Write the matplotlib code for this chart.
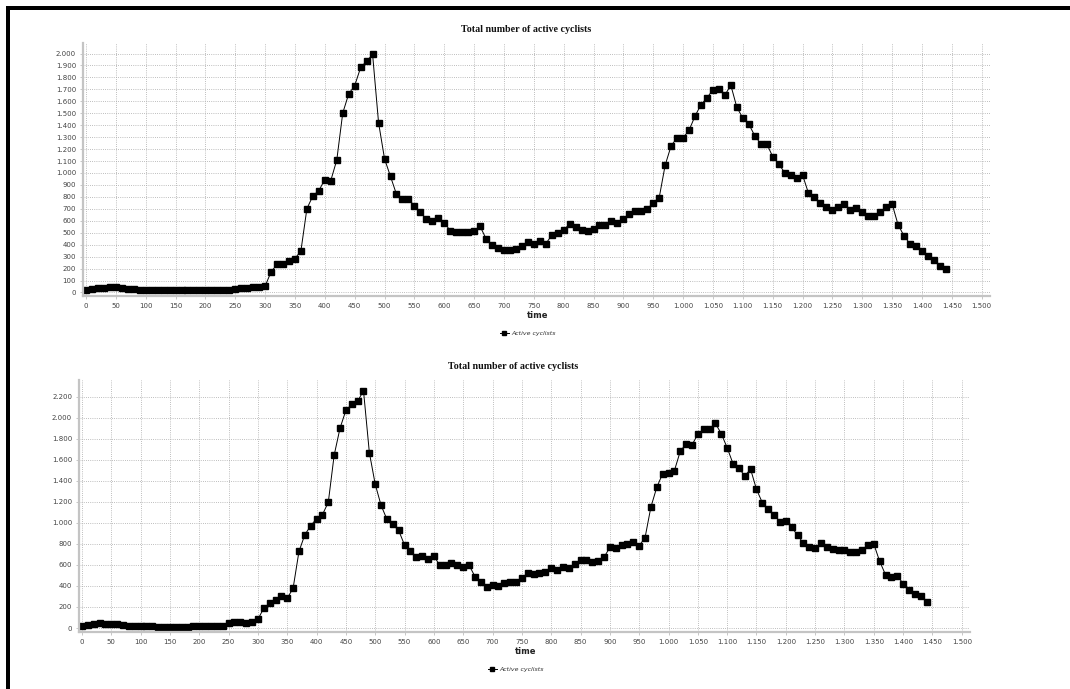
import matplotlib
matplotlib.use("Agg")
import matplotlib.pyplot as plt
from matplotlib.ticker import MultipleLocator, FuncFormatter
from matplotlib.patches import Rectangle


# time in minutes, one sample every 10 minutes
time = list(range(0, 1450, 10))

# top chart
cyclists_1 = [
    20, 28, 36, 36, 42, 48, 36, 28, 25, 20,
    17, 17, 17, 20, 17, 17, 17, 17, 17, 22,
    22, 22, 22, 22, 22, 30, 40, 36, 48, 42,
    53, 173, 235, 235, 266, 283, 350, 702, 808, 853,
    945, 937, 1108, 1502, 1662, 1731, 1883, 1936, 1992, 1421,
    1119, 971, 822, 780, 780, 727, 671, 615, 601, 624,
    585, 517, 509, 509, 503, 517, 554, 450, 400, 369,
    358, 355, 361, 392, 420, 405, 434, 408, 478, 495,
    526, 571, 551, 523, 515, 534, 565, 562, 596, 585,
    615, 657, 683, 685, 699, 750, 794, 1066, 1228, 1295,
    1295, 1357, 1477, 1572, 1628, 1698, 1706, 1653, 1734, 1550,
    1460, 1410, 1312, 1245, 1245, 1138, 1077, 1004, 985, 962,
    985, 831, 803, 747, 713, 688, 716, 741, 694, 708,
    671, 641, 638, 674, 716, 741, 568, 473, 408, 389,
    350, 308, 269, 221, 199,
]

# bottom chart
cyclists_2 = [
    16, 29, 35, 48, 35, 41, 38, 25, 19, 19,
    16, 16, 16, 13, 13, 13, 13, 13, 13, 16,
    16, 16, 16, 16, 19, 45, 57, 57, 45, 60,
    83, 188, 235, 270, 302, 283, 378, 728, 887, 973,
    1040, 1078, 1196, 1644, 1901, 2070, 2127, 2156, 2258, 1669,
    1367, 1167, 1033, 986, 928, 789, 731, 680, 687, 655,
    687, 595, 595, 620, 604, 582, 598, 490, 442, 394,
    410, 404, 429, 439, 439, 477, 521, 511, 523, 536,
    567, 548, 577, 567, 605, 643, 650, 624, 637, 672,
    767, 758, 786, 799, 815, 783, 859, 1151, 1338, 1468,
    1471, 1496, 1680, 1753, 1740, 1845, 1889, 1895, 1946, 1848,
    1715, 1563, 1518, 1449, 1509, 1319, 1192, 1128, 1078, 1011,
    1017, 960, 881, 808, 773, 761, 805, 773, 751, 745,
    739, 719, 723, 742, 792, 799, 634, 507, 488, 498,
    422, 361, 323, 307, 247,
]

titulo = "Total number of active cyclists"
etiqueta_x = "time"
serie = "Active cyclists"

W, H = 1070, 689
fig = plt.figure(figsize=(W / 100, H / 100), dpi=100)
fig.patch.set_facecolor("white")

# black frame on top and left side
fig.add_artist(Rectangle((6 / W, 1 - 10 / H), 1, 4 / H, transform=fig.transFigure,
                         facecolor="black", edgecolor="none"))
fig.add_artist(Rectangle((6 / W, 0), 4 / W, 1 - 6 / H, transform=fig.transFigure,
                         facecolor="black", edgecolor="none"))


def miles(v, pos):
    return f"{int(round(v)):,}".replace(",", ".")


def dibujar(caja, y, ylim, paso_y, titulo_xy, time_xy, leyenda_xy):
    ax = fig.add_axes(caja)
    ax.plot(time, y, color="black", lw=0.7, marker="s", markersize=3.8,
            markerfacecolor="black", markeredgecolor="black", label=serie)
    ax.set_xlim(-5, 1514)
    ax.set_ylim(*ylim)
    ax.xaxis.set_major_locator(MultipleLocator(50))
    ax.yaxis.set_major_locator(MultipleLocator(paso_y))
    ax.xaxis.set_major_formatter(FuncFormatter(miles))
    ax.yaxis.set_major_formatter(FuncFormatter(miles))
    ax.grid(True, color="#a8a8a8", linestyle=(0, (1, 1.6)), lw=0.6)
    ax.set_axisbelow(True)
    for s in ["top", "right"]:
        ax.spines[s].set_visible(False)
    for s in ["left", "bottom"]:
        ax.spines[s].set_color("#c4c4c4")
        ax.spines[s].set_linewidth(1.6)
    ax.tick_params(labelsize=5, colors="#444444", length=2, width=0.5, pad=3)
    ax.tick_params(axis="both", color="#b0b0b0")

    fig.text(titulo_xy[0] / W, 1 - titulo_xy[1] / H, titulo, ha="center", va="center",
             family="Liberation Serif", fontweight="bold", fontsize=7.2, color="#111111")
    fig.text(time_xy[0] / W, 1 - time_xy[1] / H, etiqueta_x, ha="center", va="center",
             fontweight="bold", fontsize=6, color="#222222")
    leg = ax.legend(loc="center", bbox_to_anchor=(leyenda_xy[0] / W, 1 - leyenda_xy[1] / H),
                    bbox_transform=fig.transFigure, frameon=False,
                    prop={"size": 4.5, "style": "italic"}, handlelength=1.4,
                    handletextpad=0.5, markerscale=0.9)
    for t in leg.get_texts():
        t.set_color("#333333")
    return ax


dibujar([83 / W, 1 - 295.7 / H, 907 / W, 252.7 / H], cyclists_1, (-27, 2088), 100,
        (526, 29), (538, 315.7), (528, 333))
dibujar([79 / W, 1 - 631.7 / H, 891 / W, 251.7 / H], cyclists_2, (-35, 2359), 200,
        (513.5, 366.5), (525.7, 651.7), (516, 669))

fig.savefig("out.png", dpi=100)
